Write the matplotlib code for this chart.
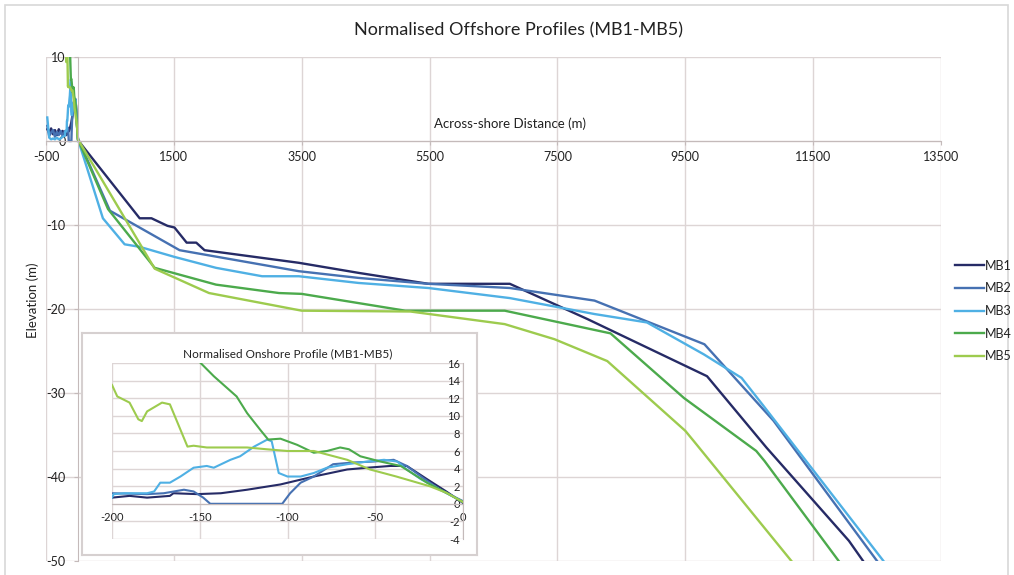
import matplotlib
matplotlib.use("Agg")
import matplotlib.pyplot as plt
from matplotlib.patches import Rectangle

plt.rcParams['font.family'] = ['Lato', 'DejaVu Sans']
plt.rcParams['axes.unicode_minus'] = False

profiles = ["MB1", "MB2", "MB3", "MB4", "MB5"]
colours = ["#262b66", "#4671b2", "#4fb0e4", "#4caa4c", "#9dcb4e"]

# landward noise beyond -200 m (only shows in the main chart)
land_x = [-480, -450, -420, -390, -360, -330, -300, -270, -240, -210]
mb1_land = [1.4, 1.0, 1.5, 0.8, 1.3, 0.7, 1.4, 0.9, 1.2, 0.8]
mb2_land = [1.8, 0.6, 1.0, 1.3, 0.5, 1.1, 0.7, 1.2, 0.6, 1.1]
mb3_land = [2.8, 0.4, 0.2, 0.3, 0.2, 0.4, 0.2, 0.3, 0.5, 0.6]

# onshore profiles (-200..0 m)
mb1_on_x = [-200, -190, -180, -167, -165, -151.5, -138, -123, -104, -85, -66, -54.5, -41.5, -32, -20.5, -9.5, 0]
mb1_on_y = [0.7, 0.9, 0.7, 0.9, 1.2, 1.1, 1.2, 1.6, 2.2, 3.1, 3.9, 4.1, 4.3, 4.3, 2.8, 1.4, 0.1]
mb2_on_x = [-200, -180, -170.5, -159, -153.5, -148, -144, -103, -98.5, -92.5, -85, -74, -62, -51, -39.5, -32, -22.5, -13, 0]
mb2_on_y = [1.2, 1.1, 1.2, 1.6, 1.4, 0.7, 0, 0, 1.2, 2.4, 3.1, 4.5, 4.7, 4.8, 5.0, 4.3, 2.9, 1.6, 0.3]
mb3_on_x = [-200, -199, -193, -180, -176, -172.5, -167, -161, -153.5, -146, -142, -132.5, -127, -119, -111.5,
            -109, -105, -100, -92.5, -85, -77.5, -66, -54.5, -45, -37.5, -32, -24, -13, 0]
mb3_on_y = [0.7, 1.1, 1.2, 1.2, 1.4, 2.4, 2.4, 3.1, 4.1, 4.3, 4.1, 5.0, 5.4, 6.5, 7.3,
            7.1, 3.5, 3.1, 3.1, 3.5, 4.1, 4.5, 4.8, 5.0, 4.8, 3.9, 2.8, 1.6, 0.2]
mb4_on_x = [-152, -142, -129, -123, -115.5, -111, -104, -94.5, -85, -77.5, -70, -65, -58.5, -47, -35.5, -20.5, -9.5, 0]
mb4_on_y = [16.5, 14.5, 12.2, 10.3, 8.4, 7.3, 7.4, 6.7, 5.8, 6.0, 6.4, 6.2, 5.4, 4.8, 4.3, 2.4, 1.25, 0.2]
mb5_on_x = [-200, -197, -190, -185, -183, -180, -171.5, -167, -157, -153.5, -146, -123, -112, -100, -85, -66,
            -53, -38, -19, -9.5, 0]
mb5_on_y = [13.5, 12.2, 11.5, 9.6, 9.4, 10.5, 11.5, 11.3, 6.5, 6.6, 6.4, 6.4, 6.2, 6.0, 6.0, 5.0,
            3.9, 3.1, 2.0, 1.25, 0.2]

# offshore profiles (m from shoreline)
mb1_off_x = [965, 1150, 1400, 1510, 1700, 1850, 1980, 3455, 4390, 5480, 6755, 7970, 9840, 10770, 12060, 12300]
mb1_off_y = [-9.2, -9.2, -10.1, -10.3, -12.1, -12.1, -13, -14.5, -15.7, -17, -17, -21.2, -28, -36.5, -47.6, -50.2]
mb2_off_x = [500, 1590, 3455, 4390, 5480, 6755, 8080, 9800, 10880, 12500]
mb2_off_y = [-8.3, -13, -15.5, -16.3, -17, -17.5, -19, -24.2, -33.3, -50]
mb3_off_x = [390, 730, 965, 1510, 2160, 2880, 3455, 4390, 5480, 6755, 8080, 8900, 9790, 10380, 10720, 12600]
mb3_off_y = [-9.2, -12.3, -12.6, -13.8, -15.1, -16.1, -16.1, -16.9, -17.5, -18.7, -20.6, -21.6, -25.4, -28.2, -31.5, -50]
mb4_off_x = [470, 1200, 2160, 3145, 3500, 5120, 6675, 8330, 9480, 10610, 10740, 11900]
mb4_off_y = [-8.1, -15.1, -17.1, -18.1, -18.2, -20.2, -20.2, -22.9, -30.6, -36.9, -38.1, -50]
mb5_off_x = [1200, 2050, 3500, 5200, 6675, 7455, 8280, 9500, 9630, 11160]
mb5_off_y = [-15.2, -18.1, -20.2, -20.3, -21.8, -23.6, -26.2, -34.5, -35.7, -50]

onshore = [(mb1_on_x, mb1_on_y), (mb2_on_x, mb2_on_y), (mb3_on_x, mb3_on_y),
           (mb4_on_x, mb4_on_y), (mb5_on_x, mb5_on_y)]
offshore = [(mb1_off_x, mb1_off_y), (mb2_off_x, mb2_off_y), (mb3_off_x, mb3_off_y),
            (mb4_off_x, mb4_off_y), (mb5_off_x, mb5_off_y)]
landward = [(land_x, mb1_land), (land_x, mb2_land), (land_x, mb3_land), ([], []), ([], [])]

grid_col = "#ddd5d5"
axis_col = "#c4baba"
text_col = "#222222"

W, H = 1014, 575
fig = plt.figure(figsize=(W / 100, H / 100), dpi=100)

# outer chart border
fig.patches.append(Rectangle((5 / W, -0.01), 1003 / W, 1 - 5 / H + 0.01, transform=fig.transFigure,
                             fill=False, edgecolor="#d8d8d8", lw=1.2))

# main chart
ax = fig.add_axes([46 / W, 1 - 561 / H, 895 / W, 504 / H])
for i, name in enumerate(profiles):
    xs = landward[i][0] + onshore[i][0] + offshore[i][0]
    ys = landward[i][1] + onshore[i][1] + offshore[i][1]
    ax.plot(xs, ys, color=colours[i], lw=1.7, label=name, solid_joinstyle="round")

ax.set_xlim(-500, 13500)
ax.set_ylim(-50, 10)
ax.set_xticks(range(-500, 13501, 2000))
ax.set_yticks(range(-50, 11, 10))
ax.grid(True, color=grid_col, lw=1)
ax.set_axisbelow(True)
for s in ["top", "right"]:
    ax.spines[s].set_visible(False)
ax.spines["left"].set_position(("data", 0))
ax.spines["bottom"].set_position(("data", 0))
ax.spines["left"].set_color(axis_col)
ax.spines["bottom"].set_color(axis_col)
ax.tick_params(axis="both", colors=axis_col, labelcolor=text_col, labelsize=9, length=3, pad=4)
ax.tick_params(axis="y", pad=6)

fig.text(518 / W, 1 - 30 / H, "Normalised Offshore Profiles (MB1-MB5)", ha="center", va="center",
         fontsize=13, color=text_col)
fig.text(510 / W, 1 - 124 / H, "Across-shore Distance (m)", ha="center", va="center",
         fontsize=9.5, color=text_col)
fig.text(33 / W, 1 - 300 / H, "Elevation (m)", ha="center", va="center", rotation=90,
         fontsize=9.5, color=text_col)

fig.legend(loc="center left", bbox_to_anchor=(944 / W, 1 - 311 / H), frameon=False, fontsize=9,
           handlelength=2.3, handletextpad=0.1, labelspacing=0.85, labelcolor=text_col)

# inset frame
frame = fig.add_axes([82 / W, 1 - 555 / H, 395 / W, 222 / H], zorder=3)
frame.set_xticks([])
frame.set_yticks([])
for s in frame.spines.values():
    s.set_color("#d6d0d0")
    s.set_linewidth(1.5)

# inset: onshore profiles
ins = fig.add_axes([112 / W, 1 - 539 / H, 351 / W, 176 / H], zorder=4)
ins.patch.set_alpha(0)
for i, name in enumerate(profiles):
    ins.plot(onshore[i][0], onshore[i][1], color=colours[i], lw=1.5)
ins.set_xlim(-200, 0)
ins.set_ylim(-4, 16)
ins.set_xticks(range(-200, 1, 50))
ins.set_yticks(range(-4, 17, 2))
ins.grid(True, color=grid_col, lw=1)
ins.set_axisbelow(True)
for s in ["top", "right"]:
    ins.spines[s].set_visible(False)
ins.spines["left"].set_position(("data", 0))
ins.spines["bottom"].set_position(("data", 0))
ins.spines["left"].set_color(axis_col)
ins.spines["bottom"].set_color(axis_col)
ins.tick_params(axis="both", colors=axis_col, labelcolor=text_col, labelsize=8, length=0)
ins.tick_params(axis="x", pad=6)
ins.tick_params(axis="y", pad=2)
ins.set_title("Normalised Onshore Profile (MB1-MB5)", fontsize=8.5, color=text_col, pad=4)

fig.savefig("out.png", dpi=100)
